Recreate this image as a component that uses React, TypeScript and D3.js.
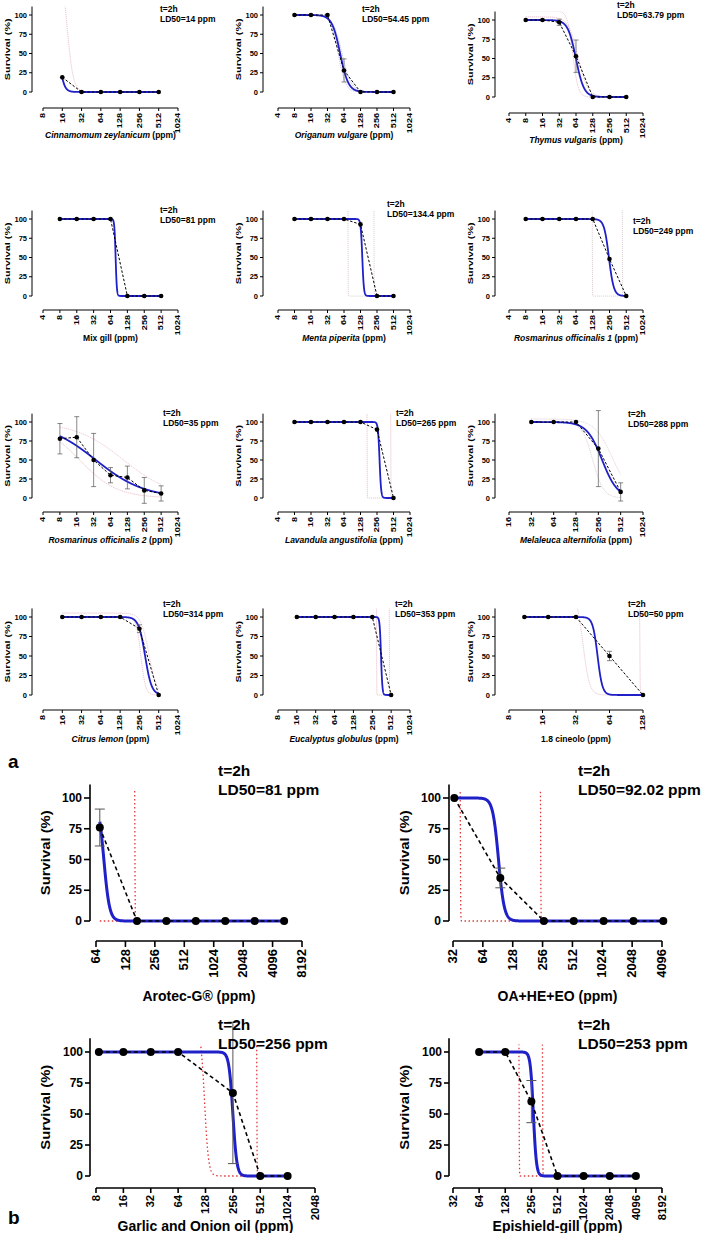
import React from 'react';
import * as d3 from 'd3';

const FONT = '"Liberation Sans", Arial, Helvetica, sans-serif';
const BLUE = '#2020c8';

// x axis tick sets (ppm, log2)
const ticks4to1024 = [4, 8, 16, 32, 64, 128, 256, 512, 1024];
const ticks8to1024 = [8, 16, 32, 64, 128, 256, 512, 1024];
const ticks16to1024 = [16, 32, 64, 128, 256, 512, 1024];
const ticks8to128 = [8, 16, 32, 64, 128];
const ticks64to8192 = [64, 128, 256, 512, 1024, 2048, 4096, 8192];
const ticks32to4096 = [32, 64, 128, 256, 512, 1024, 2048, 4096];
const ticks8to2048 = [8, 16, 32, 64, 128, 256, 512, 1024, 2048];
const ticks32to8192 = [32, 64, 128, 256, 512, 1024, 2048, 4096, 8192];
const yTicks = [0, 25, 50, 75, 100];

// fit = [LD50, hill slope]; ci = [LD50, hill slope, top] for each confidence line
// Cinnamomum zeylanicum
const cinConc = [16, 32, 64, 128, 256, 512];
const cinSurv = [19, 0, 0, 0, 0, 0];
const cinErr = [0, 0, 0, 0, 0, 0];
const cinFit = [14, 11];
const cinCI = [[19, 9, 170]];
// Origanum vulgare
const oriConc = [8, 16, 32, 64, 128, 256, 512];
const oriSurv = [100, 100, 100, 28, 0, 0, 0];
const oriErr = [0, 0, 0, 15, 0, 0, 0];
const oriFit = [54.45, 5.8];
const oriCI = [[50, 6.5, 100], [59, 5.2, 100]];
// Thymus vulgaris
const thyConc = [8, 16, 32, 64, 128, 256, 512];
const thySurv = [100, 100, 97, 53, 0, 0, 0];
const thyErr = [0, 0, 4, 21, 0, 0, 0];
const thyFit = [63.79, 6];
const thyCI = [[56, 9, 112], [70, 5, 104]];
// Mix gill
const mixConc = [8, 16, 32, 64, 128, 256, 512];
const mixSurv = [100, 100, 100, 100, 0, 0, 0];
const mixErr = [0, 0, 0, 0, 0, 0, 0];
const mixFit = [79, 40];
const mixCI: number[][] = [];
// Menta piperita
const menConc = [8, 16, 32, 64, 128, 256, 512];
const menSurv = [100, 100, 100, 100, 93, 0, 0];
const menErr = [0, 0, 0, 0, 0, 0, 0];
const menFit = [138, 30];
const menCI = [[76, 300, 130], [226, 300, 130]];
// Rosmarinus officinalis 1
const ro1Conc = [8, 16, 32, 64, 128, 256, 512];
const ro1Surv = [100, 100, 100, 100, 100, 48, 0];
const ro1Err = [0, 0, 0, 0, 0, 0, 0];
const ro1Fit = [250, 10];
const ro1CI = [[126, 300, 130], [437, 300, 130]];
// Rosmarinus officinalis 2
const ro2Conc = [8, 16, 32, 64, 128, 256, 512];
const ro2Surv = [78, 80, 50, 30, 27, 10, 6];
const ro2Err = [20, 27, 35, 10, 15, 17, 10];
const ro2Fit = [35, 1.0];
const ro2CI = [[110, 1.0, 100], [18, 1.3, 100]];
// Lavandula angustifolia
const lavConc = [8, 16, 32, 64, 128, 256, 512];
const lavSurv = [100, 100, 100, 100, 100, 90, 0];
const lavErr = [0, 0, 0, 0, 0, 0, 0];
const lavFit = [285, 30];
const lavCI = [[169, 300, 130], [458, 300, 130]];
// Melaleuca alternifolia
const melConc = [32, 64, 128, 256, 512];
const melSurv = [100, 100, 100, 65, 8];
const melErr = [0, 0, 0, 50, 12];
const melFit = [288, 4.2];
const melCI = [[400, 3.5, 104], [215, 6, 100]];
// Citrus lemon
const citConc = [16, 32, 64, 128, 256, 512];
const citSurv = [100, 100, 100, 100, 85, 0];
const citErr = [0, 0, 0, 0, 5, 0];
const citFit = [314, 8.5];
const citCI = [[360, 7, 105], [270, 12, 100]];
// Eucalyptus globulus
const eucConc = [16, 32, 64, 128, 256, 512];
const eucSurv = [100, 100, 100, 100, 100, 0];
const eucErr = [0, 0, 0, 0, 0, 0];
const eucFit = [353, 40];
const eucCI = [[300, 300, 130], [480, 300, 130]];
// 1.8 cineolo
const cinoConc = [11, 18, 32, 64, 128];
const cinoSurv = [100, 100, 100, 50, 0];
const cinoErr = [0, 0, 0, 6, 0];
const cinoFit = [50, 20];
const cinoCI = [[37, 15, 130], [120, 300, 130]];

// part b
const aroConc = [70, 168, 336, 672, 1344, 2688, 5376];
const aroSurv = [76, 0, 0, 0, 0, 0, 0];
const aroErr = [15, 0, 0, 0, 0, 0, 0];
const aroFit = [77, 15];
const aroCI = [[65, 300, 130], [160, 300, 130]];

const oaConc = [33, 96, 264, 528, 1056, 2112, 4224];
const oaSurv = [100, 35, 0, 0, 0, 0, 0];
const oaErr = [0, 8, 0, 0, 0, 0, 0];
const oaFit = [92, 15];
const oaCI = [[38, 300, 130], [245, 300, 130]];

const garConc = [8.6, 16, 32, 64, 256, 512, 1024];
const garSurv = [100, 100, 100, 100, 67, 0, 0];
const garErr = [0, 0, 0, 0, 57, 0, 0];
const garFit = [256, 20];
const garCI = [[125, 20, 120], [470, 300, 130]];

const epiConc = [64, 128, 256, 512, 1024, 2048, 4096];
const epiSurv = [100, 100, 60, 0, 0, 0, 0];
const epiErr = [0, 0, 17, 0, 0, 0, 0];
const epiFit = [270, 25];
const epiCI = [[185, 300, 130], [345, 300, 130]];

interface Spec {
  name: string; italic: boolean; ld: string;
  ticks: number[]; conc: number[]; surv: number[]; err: number[];
  fit: number[]; ci: number[][]; ciColor: string;
}

const small: Spec[] = [
  { name: 'Cinnamomum zeylanicum', italic: true, ld: '14', ticks: ticks8to1024, conc: cinConc, surv: cinSurv, err: cinErr, fit: cinFit, ci: cinCI, ciColor: '#e4b4bc' },
  { name: 'Origanum vulgare', italic: true, ld: '54.45', ticks: ticks4to1024, conc: oriConc, surv: oriSurv, err: oriErr, fit: oriFit, ci: oriCI, ciColor: '#b8b0e4' },
  { name: 'Thymus vulgaris', italic: true, ld: '63.79', ticks: ticks4to1024, conc: thyConc, surv: thySurv, err: thyErr, fit: thyFit, ci: thyCI, ciColor: '#e4b4bc' },
  { name: 'Mix gill', italic: false, ld: '81', ticks: ticks4to1024, conc: mixConc, surv: mixSurv, err: mixErr, fit: mixFit, ci: mixCI, ciColor: '#e4b4bc' },
  { name: 'Menta piperita', italic: true, ld: '134.4', ticks: ticks4to1024, conc: menConc, surv: menSurv, err: menErr, fit: menFit, ci: menCI, ciColor: '#d4c8cc' },
  { name: 'Rosmarinus officinalis 1', italic: true, ld: '249', ticks: ticks4to1024, conc: ro1Conc, surv: ro1Surv, err: ro1Err, fit: ro1Fit, ci: ro1CI, ciColor: '#d4c8cc' },
  { name: 'Rosmarinus officinalis 2', italic: true, ld: '35', ticks: ticks4to1024, conc: ro2Conc, surv: ro2Surv, err: ro2Err, fit: ro2Fit, ci: ro2CI, ciColor: '#e4b4bc' },
  { name: 'Lavandula angustifolia', italic: true, ld: '265', ticks: ticks4to1024, conc: lavConc, surv: lavSurv, err: lavErr, fit: lavFit, ci: lavCI, ciColor: '#e4b4bc' },
  { name: 'Melaleuca alternifolia', italic: true, ld: '288', ticks: ticks16to1024, conc: melConc, surv: melSurv, err: melErr, fit: melFit, ci: melCI, ciColor: '#d8c4cc' },
  { name: 'Citrus lemon', italic: true, ld: '314', ticks: ticks8to1024, conc: citConc, surv: citSurv, err: citErr, fit: citFit, ci: citCI, ciColor: '#e4b4bc' },
  { name: 'Eucalyptus globulus', italic: true, ld: '353', ticks: ticks8to1024, conc: eucConc, surv: eucSurv, err: eucErr, fit: eucFit, ci: eucCI, ciColor: '#e4b4bc' },
  { name: '1.8 cineolo', italic: false, ld: '50', ticks: ticks8to128, conc: cinoConc, surv: cinoSurv, err: cinoErr, fit: cinoFit, ci: cinoCI, ciColor: '#e4b4bc' },
];

const large: Spec[] = [
  { name: 'Arotec-G®', italic: false, ld: '81', ticks: ticks64to8192, conc: aroConc, surv: aroSurv, err: aroErr, fit: aroFit, ci: aroCI, ciColor: '#e03838' },
  { name: 'OA+HE+EO', italic: false, ld: '92.02', ticks: ticks32to4096, conc: oaConc, surv: oaSurv, err: oaErr, fit: oaFit, ci: oaCI, ciColor: '#e03838' },
  { name: 'Garlic and Onion oil', italic: false, ld: '256', ticks: ticks8to2048, conc: garConc, surv: garSurv, err: garErr, fit: garFit, ci: garCI, ciColor: '#e03838' },
  { name: 'Epishield-gill', italic: false, ld: '253', ticks: ticks32to8192, conc: epiConc, surv: epiSurv, err: epiErr, fit: epiFit, ci: epiCI, ciColor: '#e03838' },
];

// layout of the small grid
const smallCols = [
  { ax: 32, x0: 43, x1: 178 },
  { ax: 263, x0: 278, x1: 410 },
  { ax: 495, x0: 509, x1: 643 },
];
const smallRows = [
  { y100: 15, y0: 92, axY: 108, titleY: 138 },
  { y100: 219, y0: 296, axY: 310, titleY: 341 },
  { y100: 422, y0: 498, axY: 512, titleY: 543 },
  { y100: 617, y0: 695, axY: 710, titleY: 742 },
];
const smallText = [
  [160, 12], [362, 12], [617, 8],
  [160, 213], [387, 207], [633, 224],
  [163, 416], [396, 416], [628, 417],
  [163, 607], [395, 607], [628, 607],
];
const largeLayout = [
  { ax: 90, x0: 96, x1: 302, y100: 798, y0: 921, axY: 941, titleY: 1001, tx: 218, ty: 776, tfs: 12, tick: 6 },
  { ax: 449, x0: 453, x1: 662, y100: 798, y0: 921, axY: 941, titleY: 1001, tx: 578, ty: 776, tfs: 12, tick: 6 },
  { ax: 90, x0: 96, x1: 315, y100: 1052, y0: 1176, axY: 1188, titleY: 1231, tx: 218, ty: 1030, tfs: 10.5, tick: 5 },
  { ax: 449, x0: 453, x1: 662, y100: 1052, y0: 1176, axY: 1188, titleY: 1231, tx: 578, ty: 1030, tfs: 10.5, tick: 5 },
];

const hill = (c: number, ld: number, h: number, top = 100) => top / (1 + Math.pow(c / ld, h));

function Panel({ s, L, idx, big }: { s: Spec; L: any; idx: number; big: boolean }) {
  const id = (big ? 'lp-' : 'sp-') + idx;
  const x = d3.scaleLog().base(2).domain([s.ticks[0], s.ticks[s.ticks.length - 1]]).range([L.x0, L.x1]);
  const y = d3.scaleLinear().domain([0, 100]).range([L.y0, L.y100]);
  const yTop = y(111);
  const clipTop = big ? y(106) : y(111);
  const cMin = d3.min(s.conc)!, cMax = d3.max(s.conc)!;
  const samples = d3.range(0, 1201).map(i => cMin * Math.pow(cMax / cMin, i / 1200));
  const line = d3.line<[number, number]>().x(d => x(d[0])).y(d => y(d[1]));
  const fitPath = line(samples.map(c => [c, hill(c, s.fit[0], s.fit[1])]));
  const ciPaths = s.ci.map(([ld, h, top]) => line(samples.map(c => [c, hill(c, ld, h, top)])));
  const meanPath = line(s.conc.map((c, i) => [c, s.surv[i]]));

  const fs = big ? 12 : 7.5;          // y tick labels
  const xfs = big ? L.tfs : 6.5;      // x tick labels (rotated)
  const xStretch = big ? 1.08 : 1.4;
  const lab = big ? 14 : 8.5;
  const ylab = big ? 13.5 : 8;
  const yStretch = big ? 1.1 : 1.35;
  const tfs = big ? 15.5 : 8.5;
  const tick = big ? L.tick : 3;
  const aw = big ? 1.6 : 1;
  const r = big ? 4 : 2.3;
  const cap = big ? 5 : 2.5;
  const tx = big ? L.tx : smallText[idx][0];
  const ty = big ? L.ty : smallText[idx][1];

  return (
    <g fontFamily={FONT} fontWeight="bold">
      <defs>
        <clipPath id={id}>
          <rect x={L.ax + 1} y={clipTop} width={L.x1 - L.ax + 20} height={y(-2) - clipTop} />
        </clipPath>
      </defs>
      {/* y axis */}
      <line x1={L.ax} x2={L.ax} y1={yTop} y2={y(0)} stroke="#000" strokeWidth={aw} />
      {yTicks.map(t => (
        <g key={t}>
          <line x1={L.ax - tick} x2={L.ax} y1={y(t)} y2={y(t)} stroke="#000" strokeWidth={aw} />
          <text x={L.ax - tick - 2} y={y(t)} dy="0.35em" textAnchor="end" fontSize={fs}>{t}</text>
        </g>
      ))}
      <text transform={`translate(${L.ax - (big ? 40 : 22)},${(y(0) + yTop) / 2}) rotate(-90) scale(${yStretch},1)`}
        textAnchor="middle" fontSize={ylab}>Survival (%)</text>
      {/* x axis */}
      <line x1={L.x0} x2={L.x1} y1={L.axY} y2={L.axY} stroke="#000" strokeWidth={aw} />
      {s.ticks.map(t => (
        <g key={t}>
          <line x1={x(t)} x2={x(t)} y1={L.axY} y2={L.axY + tick} stroke="#000" strokeWidth={aw} />
          <text transform={`translate(${x(t)},${L.axY + tick + 2}) rotate(-90) scale(${xStretch},1)`}
            dy="0.35em" textAnchor="end" fontSize={xfs}>{t}</text>
        </g>
      ))}
      <text x={(L.x0 + L.x1) / 2} y={L.titleY} textAnchor="middle" fontSize={lab}>
        {s.italic ? <tspan fontStyle="italic">{s.name}</tspan> : s.name}
        {' (ppm)'}
      </text>
      {/* curves */}
      <g clipPath={`url(#${id})`}>
        {ciPaths.map((p, i) => (
          <path key={i} d={p!} fill="none" stroke={s.ciColor} strokeWidth={big ? 1.3 : 0.8}
            strokeDasharray={big ? '1.5,2.5' : '1.2,0.8'} />
        ))}
        <path d={fitPath!} fill="none" stroke={BLUE} strokeWidth={big ? 3 : 1.8} />
      </g>
      <path d={meanPath!} fill="none" stroke="#000" strokeWidth={big ? 1.6 : 1} strokeDasharray={big ? '4,3' : '2.5,1.8'} />
      {s.conc.map((c, i) => s.err[i] > 0 ? (
        <g key={'e' + i} stroke="#555" strokeWidth={big ? 1 : 0.7}>
          <line x1={x(c)} x2={x(c)} y1={y(s.surv[i] - s.err[i])} y2={y(s.surv[i] + s.err[i])} />
          <line x1={x(c) - cap} x2={x(c) + cap} y1={y(s.surv[i] + s.err[i])} y2={y(s.surv[i] + s.err[i])} />
          <line x1={x(c) - cap} x2={x(c) + cap} y1={y(s.surv[i] - s.err[i])} y2={y(s.surv[i] - s.err[i])} />
        </g>
      ) : null)}
      {s.conc.map((c, i) => <circle key={'d' + i} cx={x(c)} cy={y(s.surv[i])} r={r} fill="#000" />)}
      <text x={tx} y={ty} fontSize={tfs}>t=2h</text>
      <text x={tx} y={ty + (big ? 19 : 9.5)} fontSize={tfs}>LD50={s.ld} ppm</text>
    </g>
  );
}

export default function App() {
  return (
    <div style={{ position: 'absolute', left: 0, top: 0 }}>
      <svg width={709} height={1233} style={{ display: 'block', background: '#fff' }}>
        {small.map((s, i) => {
          const c = smallCols[i % 3], r = smallRows[Math.floor(i / 3)];
          const shift = i === 2 ? 5 : 0;
          const L = { ...c, y100: r.y100 + shift, y0: r.y0 + shift, axY: r.axY + shift, titleY: r.titleY + shift };
          return <Panel key={i} s={s} L={L} idx={i} big={false} />;
        })}
        {large.map((s, i) => <Panel key={i} s={s} L={largeLayout[i]} idx={i} big={true} />)}
        <text x={8} y={768} fontFamily={FONT} fontWeight="bold" fontSize={19}>a</text>
        <text x={8} y={1224} fontFamily={FONT} fontWeight="bold" fontSize={19}>b</text>
      </svg>
    </div>
  );
}
